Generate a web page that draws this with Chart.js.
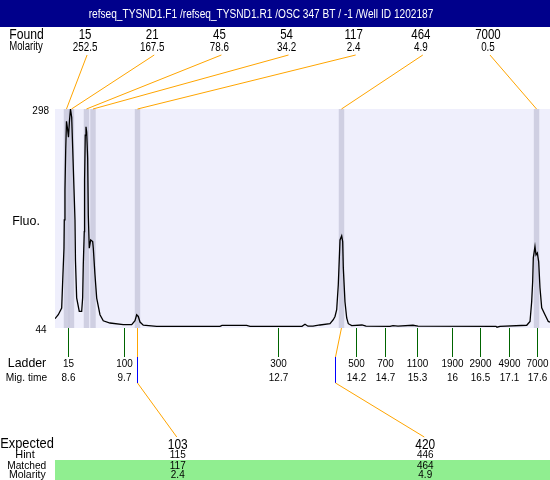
<!DOCTYPE html>
<html><head><meta charset="utf-8">
<script src="https://cdn.jsdelivr.net/npm/chart.js@4/dist/chart.umd.min.js"></script>
<style>html,body{margin:0;padding:0;background:#fff}#wrap{width:550px;height:480px;position:relative}</style>
</head><body><div id="wrap"><canvas id="c" width="550" height="480"></canvas></div>
<script>
const chartTitle = 'refseq_TYSND1.F1 /refseq_TYSND1.R1 /OSC 347 BT / -1 /Well ID 1202187';
const foundSizes = [15, 21, 45, 54, 117, 464, 7000];
const foundMolarity = ['252.5', '167.5', '78.6', '34.2', '2.4', '4.9', '0.5'];
const foundTimes = [8.577, 8.673, 8.960, 9.085, 9.938, 13.847, 17.585];
const ladderSizes = [15, 100, 300, 500, 700, 1100, 1900, 2900, 4900, 7000];
const ladderTimes = [8.6, 9.685, 12.636, 14.119, 14.687, 15.300, 15.971, 16.507, 17.063, 17.6];
const ladderTimeLabels = ['8.6', '9.7', '12.7', '14.2', '14.7', '15.3', '16', '16.5', '17.1', '17.6'];
const expectedSizes = [103, 420];
const hintSizes = [115, 446];
const matchedSizes = [117, 464];
const matchedMolarity = ['2.4', '4.9'];
const expectedTimes = [9.922, 13.728];
const fluoMin = 44, fluoMax = 298;
const timeMin = 8.357, timeMax = 17.843;
const migTimes = [8.357,8.420,8.485,8.504,8.529,8.535,8.548,8.562,8.577,8.596,
8.615,8.635,8.654,8.677,8.696,8.721,8.740,8.749,8.772,8.822,
8.868,8.887,8.899,8.918,8.924,8.937,8.951,8.964,8.983,8.995,
9.014,9.041,9.079,9.091,9.123,9.156,9.219,9.282,9.411,9.666,
9.827,9.890,9.922,9.953,9.986,10.049,10.306,11.519,11.557,12.030,
12.094,13.090,13.148,13.205,13.301,13.435,13.627,13.690,13.723,13.755,
13.786,13.819,13.851,13.870,13.882,13.914,13.947,13.978,14.043,14.240,
14.317,14.777,14.834,14.930,15.217,15.313,16.808,16.827,16.885,17.397,
17.460,17.492,17.511,17.523,17.555,17.575,17.600,17.626,17.651,17.684,
17.747,17.810,17.843];
const fluo = [54.8,59.4,67.1,97.9,136.5,169.3,204,250.2,283.8,275.7,
265.3,284.9,297.7,288.4,252.6,205.1,169.3,123,79,63.2,
63.2,79,117.2,155.7,215.5,267.6,277.4,271.4,241,175,
136.5,146.1,144.2,136.5,105.7,78.7,59.4,52.4,49.8,47.8,
47.8,52.4,59.4,57.4,50.9,47.2,45.9,45.9,47,47,
45.9,45.9,48.4,46.1,46.1,47.5,49,53.6,57.4,65.2,
94.1,146.1,150.8,144.2,113.7,74.4,55.6,49,46.7,47.5,
46.1,45.9,46.7,46.1,47.2,46.1,45.9,44.9,45.9,47.2,
51.6,74.8,97.9,125.3,138.4,128.8,131.1,121,90.6,67.5,
59.4,51.6,50.7];

const FONT = '"Liberation Sans", Arial, Helvetica, sans-serif';
function txt(ctx, s, x, y, size, sq, align) {
  ctx.save();
  ctx.font = size + 'px ' + FONT;
  ctx.translate(x, y);
  ctx.scale(sq, 1);
  ctx.textAlign = align || 'center';
  ctx.textBaseline = 'alphabetic';
  ctx.fillText(String(s), 0, 0);
  ctx.restore();
}
function seg(ctx, x1, y1, x2, y2, color) {
  ctx.save();
  ctx.strokeStyle = color; ctx.lineWidth = 1;
  ctx.beginPath(); ctx.moveTo(x1, y1); ctx.lineTo(x2, y2); ctx.stroke();
  ctx.restore();
}

const decor = {
  id: 'decor',
  beforeDatasetsDraw(chart) {
    const ctx = chart.ctx, a = chart.chartArea, X = chart.scales.x;
    ctx.save();
    ctx.fillStyle = '#ffffff'; ctx.fillRect(0, 0, chart.width, chart.height);
    ctx.fillStyle = '#EFEFFC'; ctx.fillRect(a.left, a.top, a.right - a.left, a.bottom - a.top);
    ctx.fillStyle = 'rgba(140,140,172,0.32)';
    const hw = 0.052;
    foundTimes.forEach(t => {
      const x1 = X.getPixelForValue(t - hw), x2 = X.getPixelForValue(t + hw);
      ctx.fillRect(x1, a.top, x2 - x1, a.bottom - a.top);
    });
    ctx.restore();
  },
  afterDraw(chart) {
    const ctx = chart.ctx, a = chart.chartArea, X = chart.scales.x;
    ctx.save();
    // title bar
    ctx.fillStyle = '#00008B'; ctx.fillRect(0, 0, chart.width, 27);
    ctx.fillStyle = '#ffffff';
    txt(ctx, chartTitle, 261, 17.7, 12, 0.845);
    ctx.fillStyle = '#000000';
    // found header
    txt(ctx, 'Found', 26.5, 39.3, 14, 0.87);
    txt(ctx, 'Molarity', 26, 50.3, 12, 0.8);
    const colL = 51.5, colW = 67.15;
    foundSizes.forEach((s, i) => {
      const cx = colL + colW * (i + 0.5);
      ctx.fillStyle = '#000';
      txt(ctx, s, cx, 39.3, 14, 0.82);
      txt(ctx, foundMolarity[i], cx, 50.5, 12, 0.82);
      seg(ctx, cx + 2, 55, X.getPixelForValue(foundTimes[i]), a.top, '#FFA500');
    });
    // y labels
    ctx.fillStyle = '#000';
    txt(ctx, String(fluoMax), 49, 114.3, 10.5, 0.95, 'right');
    txt(ctx, String(fluoMin), 46.5, 333.3, 10.5, 0.95, 'right');
    txt(ctx, 'Fluo.', 26, 225, 13, 0.96);
    // ladder
    ladderTimes.forEach((t, i) => {
      const x = Math.round(X.getPixelForValue(t)) + 0.5;
      seg(ctx, x, a.bottom, x, a.bottom + 29, '#006400');
      ctx.fillStyle = '#000';
      txt(ctx, ladderSizes[i], x, 366.7, 11, 0.9);
      txt(ctx, ladderTimeLabels[i], x, 380.5, 11, 0.9);
    });
    txt(ctx, 'Ladder', 27, 367.3, 13, 0.95);
    txt(ctx, 'Mig. time', 26.5, 380.5, 10.5, 0.97);
    // expected / matched
    ctx.fillStyle = '#90EE90';
    ctx.fillRect(a.left, 460, a.right - a.left, 20);
    const bw = (a.right - a.left) / expectedSizes.length;
    expectedSizes.forEach((s, j) => {
      const cx = a.left + bw * (j + 0.5) - 1;
      const k = foundSizes.indexOf(matchedSizes[j]);
      const px = X.getPixelForValue(foundTimes[k]);
      const ex = Math.round(X.getPixelForValue(expectedTimes[j])) + 0.5;
      seg(ctx, px, a.bottom, ex, a.bottom + 29, '#FFA500');
      seg(ctx, ex, a.bottom + 29, ex, a.bottom + 55, '#0000FF');
      seg(ctx, ex, a.bottom + 55, cx - 1, 437, '#FFA500');
      ctx.fillStyle = '#000';
      txt(ctx, s, cx, 449, 14, 0.85);
      txt(ctx, hintSizes[j], cx, 458, 10.5, 0.95);
      txt(ctx, matchedSizes[j], cx, 469, 10.5, 0.95);
      txt(ctx, matchedMolarity[j], cx, 477.7, 10.5, 0.95);
    });
    ctx.fillStyle = '#000';
    txt(ctx, 'Expected', 27, 448.3, 14, 0.92);
    txt(ctx, 'Hint', 25, 458, 11.5, 0.95);
    txt(ctx, 'Matched', 26.7, 469, 10.5, 0.97);
    txt(ctx, 'Molarity', 27.3, 477.7, 10.5, 1.0);
    ctx.restore();
  }
};

new Chart(document.getElementById('c'), {
  type: 'line',
  data: {
    datasets: [{
      data: migTimes.map((t, i) => ({ x: t, y: fluo[i] })),
      borderColor: '#000000',
      borderWidth: 1.3,
      pointRadius: 0,
      tension: 0,
      fill: false
    }]
  },
  options: {
    responsive: false,
    animation: false,
    devicePixelRatio: 1,
    layout: { padding: { left: 55, top: 109, right: 0, bottom: 152 } },
    plugins: { legend: { display: false }, tooltip: { enabled: false }, title: { display: false } },
    scales: {
      x: { type: 'linear', min: timeMin, max: timeMax, display: false },
      y: { type: 'linear', min: fluoMin, max: fluoMax, display: false }
    }
  },
  plugins: [decor]
});
</script>
</body></html>
